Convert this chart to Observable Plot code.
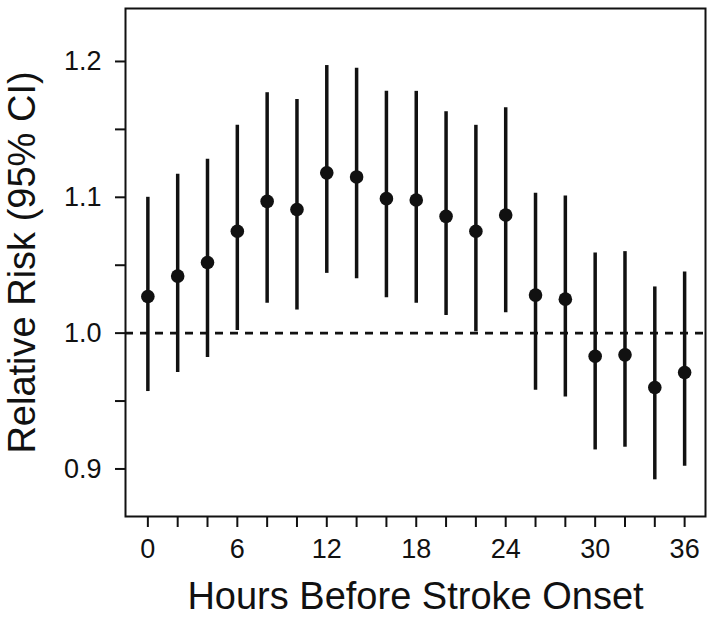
<!DOCTYPE html>
<html>
<head>
<meta charset="utf-8">
<script src="https://cdn.jsdelivr.net/npm/d3@7"></script>
<script src="https://cdn.jsdelivr.net/npm/@observablehq/plot@0.6"></script>
<style>
  html, body { margin: 0; padding: 0; background: #fff; }
  #chart { width: 714px; height: 617px; }
</style>
</head>
<body>
<div id="chart"></div>
<script>
const hours = [0, 2, 4, 6, 8, 10, 12, 14, 16, 18, 20, 22, 24, 26, 28, 30, 32, 34, 36];
const rr    = [1.027, 1.042, 1.052, 1.075, 1.097, 1.091, 1.118, 1.115, 1.099, 1.098, 1.086, 1.075, 1.087, 1.028, 1.025, 0.983, 0.984, 0.960, 0.971];
const upper = [1.100, 1.117, 1.128, 1.153, 1.177, 1.172, 1.197, 1.195, 1.178, 1.178, 1.163, 1.153, 1.166, 1.103, 1.101, 1.059, 1.060, 1.034, 1.045];
const lower = [0.957, 0.971, 0.982, 1.002, 1.022, 1.017, 1.044, 1.040, 1.026, 1.022, 1.013, 1.001, 1.015, 0.958, 0.953, 0.914, 0.916, 0.892, 0.902];
const xTicks = [0, 2, 4, 6, 8, 10, 12, 14, 16, 18, 20, 22, 24, 26, 28, 30, 32, 34, 36];
const xTickLabels = [0, 6, 12, 18, 24, 30, 36];
const yTicks = [0.9, 0.95, 1.0, 1.05, 1.1, 1.15, 1.2];
const yTickLabels = [0.9, 1.0, 1.1, 1.2];
const xTitle = "Hours Before Stroke Onset";
const yTitle = "Relative Risk (95% CI)";
const refValue = 1.0;

const data = hours.map((h, i) => ({hour: h, rr: rr[i], lo: lower[i], hi: upper[i]}));
const font = "Liberation Sans, Arial, Helvetica, sans-serif";
const ink = "#111";

const chart = Plot.plot({
  width: 714,
  height: 617,
  marginLeft: 125,
  marginRight: 9,
  marginTop: 8,
  marginBottom: 101,
  style: {fontFamily: font, background: "#fff", color: ink},
  x: {domain: [-1.5, 37.4]},
  y: {domain: [0.865, 1.239]},
  marks: [
    Plot.ruleY([refValue], {stroke: ink, strokeWidth: 2.6, strokeDasharray: "8,7"}),
    Plot.ruleX(data, {x: "hour", y1: "lo", y2: "hi", stroke: ink, strokeWidth: 3.5}),
    Plot.dot(data, {x: "hour", y: "rr", r: 6.8, fill: ink, stroke: "none"}),
    Plot.frame({stroke: ink, strokeWidth: 2}),
    Plot.axisX({ticks: xTicks, tickSize: 11, tickFormat: d => xTickLabels.includes(d) ? String(d) : "",
      tickPadding: 11, fontSize: 27, strokeWidth: 2, stroke: ink, label: null}),
    Plot.axisY({ticks: yTicks, tickSize: 10, tickFormat: d => yTickLabels.some(v => Math.abs(v - d) < 1e-9) ? d3.format(".1f")(d) : "",
      tickPadding: 14, fontSize: 27, strokeWidth: 2, stroke: ink, label: null}),
    Plot.text([xTitle], {frameAnchor: "bottom", dy: 80, lineAnchor: "middle", fontSize: 38, fill: ink, textAnchor: "middle", text: d => d}),
    Plot.text([yTitle], {frameAnchor: "left", dx: -103, rotate: -90, lineAnchor: "middle", fontSize: 38, fill: ink, textAnchor: "middle", text: d => d})
  ]
});
document.getElementById("chart").appendChild(chart);
</script>
</body>
</html>
